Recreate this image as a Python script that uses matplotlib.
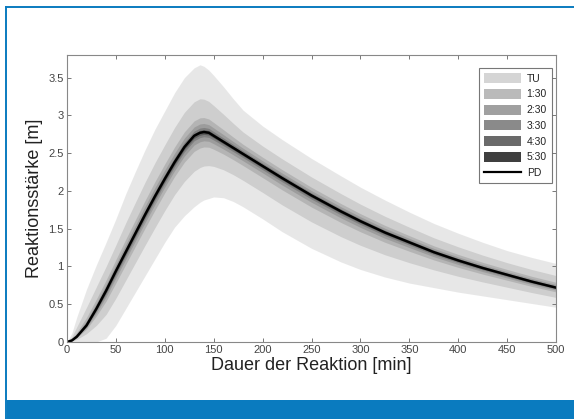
import matplotlib
matplotlib.use("Agg")
import matplotlib.pyplot as plt
from matplotlib.patches import Patch, Rectangle
from matplotlib.lines import Line2D
import numpy as np

plt.rcParams["font.family"] = ["Liberation Sans", "DejaVu Sans"]

# time grid [min]
t = [0, 5, 10, 20, 30, 40, 50, 60, 70, 80, 90, 100, 110, 120, 130, 136, 140,
     145, 150, 160, 170, 180, 200, 220, 250, 280, 300, 325, 350, 375, 400,
     425, 450, 475, 500]

# PD curve [m]
pd_vals = [0.0, 0.02, 0.07, 0.22, 0.44, 0.68, 0.94, 1.19, 1.44, 1.69, 1.93,
           2.16, 2.38, 2.58, 2.73, 2.77, 2.78, 2.77, 2.73, 2.65, 2.57, 2.49,
           2.33, 2.17, 1.94, 1.73, 1.60, 1.45, 1.32, 1.19, 1.08, 0.98,
           0.89, 0.80, 0.72]

# outer envelope (TU)
tu_upper = [0.0, 0.12, 0.33, 0.70, 1.02, 1.32, 1.63, 1.96, 2.26, 2.55, 2.82,
            3.06, 3.30, 3.50, 3.63, 3.67, 3.65, 3.60, 3.53, 3.38, 3.22, 3.07,
            2.86, 2.68, 2.43, 2.20, 2.05, 1.88, 1.72, 1.57, 1.44, 1.32,
            1.21, 1.12, 1.04]
tu_lower = [0.0, 0.0, 0.0, 0.0, 0.0, 0.05, 0.22, 0.44, 0.66, 0.88, 1.10,
            1.32, 1.52, 1.67, 1.79, 1.85, 1.88, 1.90, 1.92, 1.91, 1.86, 1.79,
            1.63, 1.46, 1.24, 1.06, 0.96, 0.86, 0.78, 0.72, 0.66, 0.61,
            0.56, 0.51, 0.46]

# bands, widest first; width of each band relative to the TU envelope
band_names = ["TU", "1:30", "2:30", "3:30", "4:30", "5:30"]
band_width = [1.0, 0.5, 0.22, 0.13, 0.07, 0.035]
band_colors = ["#d5d5d5", "#bababa", "#a0a0a0", "#8a8a8a", "#6a6a6a", "#3f3f3f"]

fig = plt.figure(figsize=(5.74, 4.19), dpi=100)
ax = fig.add_axes([0.1167, 0.1838, 0.852, 0.685])

tt = np.array(t)
pd_a = np.array(pd_vals)
up = np.array(tu_upper)
lo = np.array(tu_lower)
for name, w, c in zip(band_names, band_width, band_colors):
    ax.fill_between(tt, pd_a - w * (pd_a - lo), pd_a + w * (up - pd_a),
                    color=c, alpha=0.55, lw=0)
ax.plot(tt, pd_a, color="black", lw=1.8, solid_capstyle="round")

ax.set_xlim(0, 500)
ax.set_ylim(0, 3.8)
ax.set_xticks(np.arange(0, 501, 50))
ax.set_yticks(np.arange(0, 3.51, 0.5))
ax.set_yticklabels([f"{v:g}" for v in np.arange(0, 3.51, 0.5)])
ax.tick_params(direction="in", top=True, right=True, length=3, width=0.7,
               color="#777777", labelsize=8, labelcolor="#444444", pad=2.5)
for s in ax.spines.values():
    s.set_color("#888888")
    s.set_linewidth(0.8)

ax.set_xlabel("Dauer der Reaktion [min]", fontsize=13, color="#222222", labelpad=1)
ax.set_ylabel("Reaktionsstärke [m]", fontsize=13, color="#222222", labelpad=4)

handles = [Patch(facecolor=c, edgecolor="none") for c in band_colors]
handles.append(Line2D([], [], color="black", lw=1.6))
leg = ax.legend(handles, band_names + ["PD"], loc="upper right",
                bbox_to_anchor=(0.992, 0.955), fontsize=7.5, frameon=True,
                fancybox=False, edgecolor="#555555", handlelength=3.6,
                handleheight=1.1, labelspacing=0.5, borderpad=0.5,
                handletextpad=0.5, borderaxespad=0)
leg.get_frame().set_linewidth(0.8)
for txt in leg.get_texts():
    txt.set_color("#222222")

# blue frame and footer band
blue = "#0a7bbf"
fig.add_artist(Line2D([5.5 / 574, 1], [1 - 7 / 419, 1 - 7 / 419],
                      color=blue, lw=1.4, transform=fig.transFigure))
fig.add_artist(Line2D([5.5 / 574, 5.5 / 574], [0, 1 - 7 / 419],
                      color=blue, lw=1.4, transform=fig.transFigure))
fig.add_artist(Rectangle((7 / 574, 0), 1, 19 / 419, facecolor=blue,
                         edgecolor="none", transform=fig.transFigure))

fig.savefig("out.png", dpi=100)
